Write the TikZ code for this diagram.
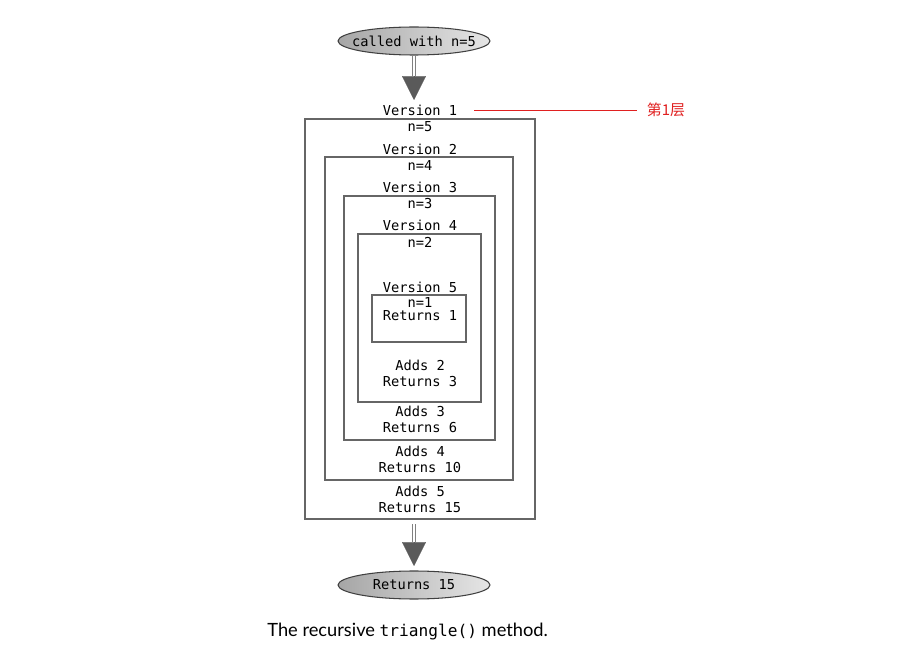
\documentclass[tikz,border=0pt]{standalone}
\usepackage{fontspec}
\setmainfont{Lato}
\newfontfamily\codefont{DejaVu Sans Mono}
\newfontfamily\cjkfont{Noto Sans CJK SC}
\usetikzlibrary{arrows.meta,shapes.geometric}
\definecolor{framegray}{HTML}{666666}
\definecolor{headgray}{HTML}{5A5A5A}
\definecolor{notered}{HTML}{E02020}

\begin{document}
\begin{tikzpicture}[x=0.02cm,y=-0.02cm]
        \tikzstyle{txt}=[font=\fontsize{7.8}{9}\selectfont\codefont,inner sep=0pt]
        \tikzstyle{frame}=[draw=framegray,line width=1.1pt]
        \tikzstyle{terminal}=[ellipse,draw=black!75,line width=0.6pt,left color=gray!70,right color=gray!20,
                              minimum width=3.04cm,minimum height=0.56cm,inner xsep=-0.18cm,inner ysep=0pt,
                              font=\fontsize{7.8}{9}\selectfont\codefont]
        \tikzstyle{shaft}=[draw=gray,line width=0.45pt,double=white,double distance=1.4pt]
        \tikzstyle{head}=[-{Triangle[width=13.6pt,length=13.6pt]},headgray,line width=0.2pt]

        \useasboundingbox (0,0) rectangle (900,655);

        \node[terminal] (CALL) at (414,41)  {called with n=5};
        \node[terminal] (RET)  at (414,585) {Returns 15};

        % nested frames, one per version
        \draw[frame] (305,119) rectangle (535,519);
        \draw[frame] (325,157) rectangle (513,480);
        \draw[frame] (344,196) rectangle (495,440);
        \draw[frame] (358,234) rectangle (481,402);
        \draw[frame] (372,295) rectangle (466,342);

        \node[txt] (V1) at (420,110) {Version 1};
        \node[txt] (N1) at (420,127) {n=5};
        \node[txt] (V2) at (420,149) {Version 2};
        \node[txt] (N2) at (420,166) {n=4};
        \node[txt] (V3) at (420,187) {Version 3};
        \node[txt] (N3) at (420,204) {n=3};
        \node[txt] (V4) at (420,225) {Version 4};
        \node[txt] (N4) at (420,242) {n=2};
        \node[txt] (V5) at (420,287) {Version 5};
        \node[txt] (N5) at (420,303) {n=1};
        \node[txt] (R5) at (420,316) {Returns 1};
        \node[txt] (A4) at (420,365) {Adds 2};
        \node[txt] (R4) at (420,382) {Returns 3};
        \node[txt] (A3) at (420,411) {Adds 3};
        \node[txt] (R3) at (420,428) {Returns 6};
        \node[txt] (A2) at (420,451) {Adds 4};
        \node[txt] (R2) at (420,468) {Returns 10};
        \node[txt] (A1) at (420,491) {Adds 5};
        \node[txt] (R1) at (420,508) {Returns 15};

        % call and return arrows
        \coordinate (S1) at (414,76);
        \coordinate (T1) at (414,100);
        \coordinate (B2) at (414,524);
        \coordinate (S2) at (414,542);
        \coordinate (T2) at (414,566);
        \draw[shaft] (CALL.south) -- (S1);
        \draw[head]  (S1) -- (T1);
        \draw[shaft] (B2) -- (S2);
        \draw[head]  (S2) -- (T2);

        % layer note
        \node[inner sep=0pt,text=notered,font=\fontsize{8.5}{10}\selectfont\cjkfont] (LAYER) at (666,110) {第1层};
        \coordinate (M1) at (474,110);
        \draw[notered,line width=0.5pt] (M1) -- ([xshift=-0.2cm]LAYER.west);

        \node[inner sep=0pt,anchor=west,font=\fontsize{10.4}{12}\selectfont] (CAP) at (267,632)
             {The recursive {\codefont\fontsize{9.2}{11}\selectfont triangle()} method.};
\end{tikzpicture}
\end{document}
